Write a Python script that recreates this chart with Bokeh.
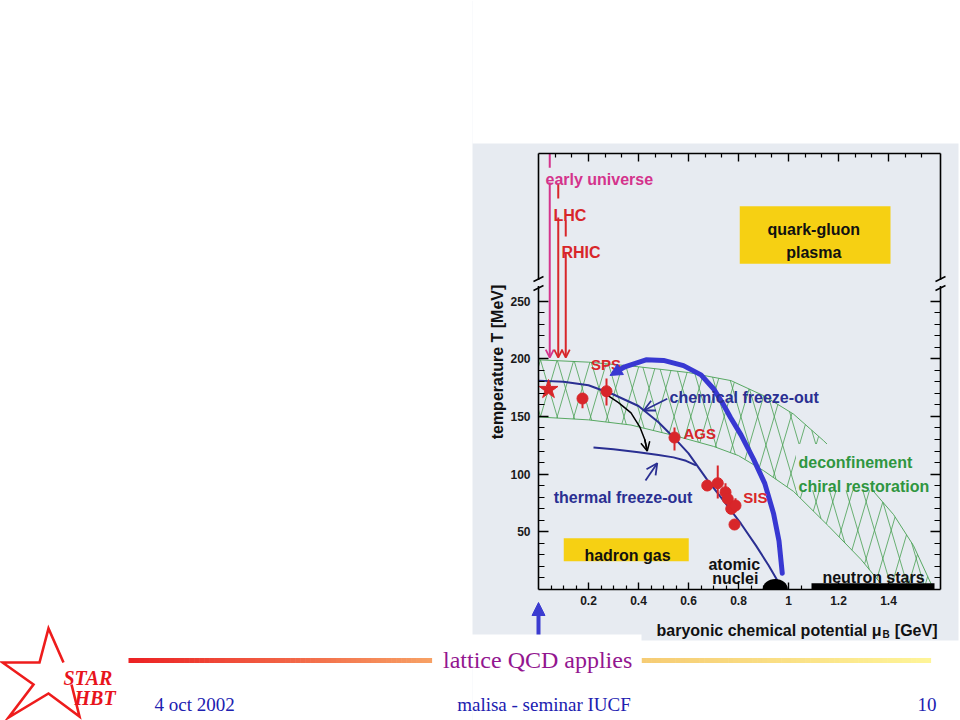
import numpy as np
from bokeh.plotting import figure
from bokeh.models import (Range1d, LinearAxis, FixedTicker, CustomJSTickFormatter,
                          Arrow, OpenHead, NormalHead)
from bokeh.core.properties import value
from bokeh.embed import file_html
from bokeh.resources import INLINE

# ---------------- data ----------------
band_upper_mu = [0.0, 0.2, 0.4, 0.6, 0.77, 0.9, 1.02, 1.14, 1.24, 1.34, 1.42, 1.5, 1.57]
band_upper_T = [199, 197, 193, 188, 181, 168, 152, 129, 108, 85, 65, 38, 5]
band_lower_mu = [0.0, 0.2, 0.37, 0.55, 0.7, 0.8, 0.9, 1.02, 1.16, 1.29, 1.37]
band_lower_T = [149.5, 147, 142.5, 133, 124, 116, 103, 85, 55, 26, 5]

chem_mu = [0.0, 0.1, 0.2, 0.3, 0.4, 0.48, 0.54, 0.6, 0.675, 0.74, 0.81, 0.87, 0.92, 0.955]
chem_T = [181, 180, 177, 169, 159, 145, 132, 118, 95, 77, 57, 38, 21, 8]

therm_mu = [0.22, 0.3, 0.4, 0.48, 0.54, 0.59, 0.63]
therm_T = [123, 121.5, 119, 116.5, 114.5, 111.5, 107.5]

path_mu = [0.975, 0.962, 0.94, 0.905, 0.86, 0.81, 0.768, 0.735, 0.70, 0.65, 0.58, 0.50, 0.43, 0.345]
path_T = [14, 42, 66, 92, 113, 134, 149, 162, 174, 186, 194, 198.5, 199, 193]
path_tip_mu, path_tip_T = 0.286, 185.5

trans_mu = [0.275, 0.32, 0.37, 0.405, 0.425, 0.435]
trans_T = [168.5, 162, 153, 141, 130, 120]

pts_mu = [0.176, 0.272, 0.544, 0.675, 0.717, 0.748, 0.757, 0.771, 0.788, 0.784]
pts_T = [165.5, 171.8, 131.7, 90.1, 92.1, 84.3, 78.6, 69.9, 72.8, 56.3]
pts_lo = [157, 159.4, 120.5, 90.1, 78.9, 77, 78.6, 69.9, 67, 56.3]
pts_hi = [170, 182.8, 140.4, 90.1, 107.5, 92, 78.6, 69.9, 79, 56.3]

lqcd_mu = [0.04]
lqcd_T = [173.3]

beam_mu = [0.045, 0.079, 0.109]
beam_T_end = 201

nuclei_mu = 0.947
nstar_mu = (1.092, 1.584)

x_ticks = [0.2, 0.4, 0.6, 0.8, 1.0, 1.2, 1.4]
x_minor = [round(0.05 * i, 3) for i in range(1, 32) if i % 4]
x_minor_top = [round(i / 15, 4) for i in range(1, 25) if i % 3]
y_ticks = [50, 100, 150, 200, 250]
y_minor = [10 * i for i in range(1, 25) if i % 5]

# ---------------- styling ----------------
BG = "#e7ebf1"
W, H = 960, 720
FL, FR, FT, FB = 538, 940, 153, 589   # frame in page pixels
XS, YS = 250.0, 1.154                 # px per GeV, px per MeV
SANS = "Liberation Sans"
SERIF = "Liberation Serif"
NAVY = "#2a2f92"
THICK = "#3838d2"
RED = "#d8262a"
MAG = "#d4338c"
GREEN = "#2f9640"
HATCH = "#47a052"
YEL = "#f6d013"

p = figure(width=W, height=H, output_backend="svg", toolbar_location=None,
           x_range=Range1d(0, (FR - FL) / XS), y_range=Range1d(0, (FB - FT) / YS),
           min_border_left=FL, min_border_right=W - FR,
           min_border_top=FT, min_border_bottom=H - FB,
           background_fill_color=BG, border_fill_color=BG, outline_line_color=None)
p.xgrid.grid_line_color = None
p.ygrid.grid_line_color = None
p.extra_x_ranges = {"px": Range1d(FL, FR)}
p.extra_y_ranges = {"py": Range1d(FB, FT)}


def style_axis(ax, tin, tmin, standoff):
    ax.axis_line_color = "black"
    ax.axis_line_width = 1.6
    ax.major_tick_line_color = "black"
    ax.major_tick_line_width = 1.4
    ax.minor_tick_line_color = "black"
    ax.minor_tick_line_width = 1.2
    ax.major_tick_out = 0
    ax.minor_tick_out = 0
    ax.major_tick_in = tin
    ax.minor_tick_in = tmin
    ax.major_label_standoff = standoff
    ax.major_label_text_font = SANS
    ax.major_label_text_font_style = "bold"
    ax.major_label_text_font_size = "12px"
    ax.major_label_text_color = "#1a1a1a"


xa = p.below[0]
xa.ticker = FixedTicker(ticks=x_ticks, minor_ticks=x_minor)
xa.formatter = CustomJSTickFormatter(code="return Math.abs(tick-1)<1e-9 ? '1' : tick.toFixed(1);")
style_axis(xa, 7, 4, 6)

ya = p.left[0]
ya.ticker = FixedTicker(ticks=y_ticks, minor_ticks=y_minor)
style_axis(ya, 10, 6, 8)

blank = CustomJSTickFormatter(code="return '';")
top = LinearAxis(ticker=FixedTicker(ticks=x_ticks, minor_ticks=x_minor_top), formatter=blank)
style_axis(top, 8, 4, 0)
top.major_label_text_color = None
p.add_layout(top, "above")

right = LinearAxis(ticker=FixedTicker(ticks=y_ticks, minor_ticks=y_minor), formatter=blank)
style_axis(right, 10, 6, 0)
right.major_label_text_color = None
p.add_layout(right, "right")

# ---------------- hatched band ----------------
band_x = band_upper_mu + band_lower_mu[::-1]
band_y = band_upper_T + band_lower_T[::-1]


def hatch_lines(mx, ty, spacing=16.7, slope=3.4, x_phase=2.0, y_phase=199 * YS):
    """cross-hatch of steep lines, clipped to the polygon (computed in screen pixels)"""
    P = [(a * XS, b * YS) for a, b in zip(mx, ty)]
    n = len(P)
    out = []
    for sign in (1, -1):
        cs = [x - sign * y / slope for x, y in P]
        c0 = x_phase - sign * y_phase / slope
        c = c0 + np.floor((min(cs) - c0) / spacing) * spacing
        while c <= max(cs):
            hits = []
            for i in range(n):
                (x1, y1), (x2, y2) = P[i], P[(i + 1) % n]
                f1 = x1 - sign * y1 / slope - c
                f2 = x2 - sign * y2 / slope - c
                if (f1 > 0) != (f2 > 0):
                    t = f1 / (f1 - f2)
                    hits.append(y1 + t * (y2 - y1))
            hits.sort()
            for a, b in zip(hits[0::2], hits[1::2]):
                out.append(((c + sign * a / slope) / XS, a / YS, (c + sign * b / slope) / XS, b / YS))
            c += spacing
    return out


hl = hatch_lines(band_x, band_y)
p.segment(x0=[s[0] for s in hl], y0=[s[1] for s in hl], x1=[s[2] for s in hl], y1=[s[3] for s in hl],
          line_color=HATCH, line_width=0.8)
p.line(band_upper_mu, band_upper_T, line_color=HATCH, line_width=0.9)
p.line(band_lower_mu, band_lower_T, line_color=HATCH, line_width=0.9)
p.quad(left=[1.03], right=[1.6], bottom=[86], top=[126], fill_color=BG, line_color=None)

p.quad(left=[0.805, 0.101], right=[1.408, 0.601], bottom=[282.2, 24.5], top=[332.2, 44.5],
       fill_color=YEL, line_color=None)

# ---------------- curves ----------------
p.line(chem_mu, chem_T, line_color=NAVY, line_width=2, line_join="round")
p.line(therm_mu, therm_T, line_color=NAVY, line_width=2, line_join="round")
p.line(trans_mu, trans_T, line_color="black", line_width=1.5, line_join="round")
p.line(path_mu, path_T, line_color=THICK, line_width=5, line_join="round", line_cap="round")
p.add_layout(Arrow(end=NormalHead(size=12, fill_color=THICK, line_color=THICK, line_width=1),
                   x_start=path_mu[-1], y_start=path_T[-1], x_end=path_tip_mu, y_end=path_tip_T,
                   line_color=THICK, line_width=5))
p.add_layout(Arrow(end=OpenHead(size=9, line_color="black", line_width=1.5),
                   x_start=trans_mu[-2], y_start=trans_T[-2], x_end=trans_mu[-1], y_end=trans_T[-1],
                   line_color="black", line_width=1.5))

p.add_layout(Arrow(end=OpenHead(size=11, line_color=NAVY, line_width=1.8),
                   x_start=0.515, y_start=165.3, x_end=0.421, y_end=155.1,
                   line_color=NAVY, line_width=1.8))
p.add_layout(Arrow(end=OpenHead(size=11, line_color=NAVY, line_width=1.8),
                   x_start=0.428, y_start=94.5, x_end=0.475, y_end=109.4,
                   line_color=NAVY, line_width=1.8))

beam_colors = [MAG, RED, RED]
seg_top = [377.8, 351.8, 319.8]
seg_bot = [365.5, 338.8, 305.9]
arr_start = [352.7, 322.3, 292.0]
p.segment(x0=beam_mu, y0=seg_top, x1=beam_mu, y1=seg_bot, line_color=beam_colors, line_width=2)
for m, c, s in zip(beam_mu, beam_colors, arr_start):
    p.add_layout(Arrow(end=OpenHead(size=8, line_color=c, line_width=1.8),
                       x_start=m, y_start=s, x_end=m, y_end=beam_T_end,
                       line_color=c, line_width=2))

p.ellipse(x=[nuclei_mu], y=[0], width=0.101, height=18.2, fill_color="black", line_color=None)
p.quad(left=[nstar_mu[0]], right=[nstar_mu[1]], bottom=[0], top=[5.5],
       fill_color="black", line_color=None)

p.segment(x0=pts_mu, y0=pts_lo, x1=pts_mu, y1=pts_hi, line_color=RED, line_width=2)
p.scatter(pts_mu, pts_T, marker="circle", size=11, fill_color=RED, line_color=RED)
p.scatter(lqcd_mu, lqcd_T, marker="star", size=20, fill_color=RED, line_color=RED)


def dtext(xs, ys, texts, color, size="16px", align="left"):
    p.text(x=xs, y=ys, text=texts, text_color=color, text_font=value(SANS),
           text_font_style="bold", text_font_size=size, text_align=align,
           text_baseline="alphabetic")


dtext([0.028], [355.3], ["early universe"], MAG)
dtext([0.06, 0.092], [324.1, 292.3], ["LHC", "RHIC"], RED)
dtext([1.101, 1.101], [311.7, 292.3], ["quark-gluon", "plasma"], "#111111", align="center")
dtext([0.27], [194.6], ["SPS"], RED, size="15px", align="center")
dtext([0.58], [135.2], ["AGS"], RED, size="15px")
dtext([0.819], [80.0], ["SIS"], RED, size="15px")
dtext([0.524], [166.1], ["chemical freeze-out"], NAVY)
dtext([0.061], [80.0], ["thermal freeze-out"], NAVY)
dtext([1.04, 1.04], [110.3, 89.3], ["deconfinement", "chiral restoration"], GREEN)
dtext([0.356], [29.5], ["hadron gas"], "#111111", align="center")
dtext([0.783, 0.787], [21.4, 9.3], ["atomic", "nuclei"], "#111111", align="center")
dtext([1.34], [10.1], ["neutron stars"], "#111111", align="center")

# ---------------- page-level decorations (page pixel coordinates) ----------------
PX = dict(x_range_name="px", y_range_name="py", level="overlay")

p.quad(left=[-20, 472, 472, 958], right=[472, 980, 980, 980], top=[-20, -20, 640, -20],
       bottom=[740, 143, 740, 740], fill_color="white", line_color=None, **PX)

p.quad(left=[534, 936], right=[542, 944], top=[279.5, 279.5], bottom=[285.5, 285.5],
       fill_color=BG, line_color=None, **PX)
p.segment(x0=[533, 533, 935, 935], y0=[281, 290, 281, 290], x1=[543, 543, 945, 945],
          y1=[276, 285, 276, 285], line_color="black", line_width=1.5, **PX)


def ptext(x, y, s, color, font, size, style="normal", align="left", angle=0.0):
    p.text(x=[x], y=[y], text=[s], text_color=color, text_font=value(font),
           text_font_style=style, text_font_size=size, text_align=align,
           text_baseline="alphabetic", angle=angle, **PX)


ptext(497, 361.5, "temperature T [MeV]", "#111111", SANS, "16px", "bold", "center", np.pi / 2)
ptext(881, 630, "baryonic chemical potential \u03bc", "#111111", SANS, "16px", "bold", "right")
ptext(882, 634, "B", "#111111", SANS, "10px", "bold", "left")
ptext(937, 630, "[GeV]", "#111111", SANS, "16px", "bold", "right")


def grad(x0, x1, c0, c1, n=60):
    xs = np.linspace(x0, x1, n + 1)
    t = np.linspace(0, 1, n)
    cols = ["#%02x%02x%02x" % tuple(int(round(a + (b - a) * tt)) for a, b in zip(c0, c1)) for tt in t]
    p.segment(x0=xs[:-1], x1=xs[1:] + 0.6, y0=[660] * n, y1=[660] * n, line_color=cols,
              line_width=5, **PX)


grad(128, 431, (236, 34, 36), (247, 160, 100))
grad(641, 930, (246, 204, 116), (254, 244, 152))

p.quad(left=[434], right=[641], top=[634], bottom=[668], fill_color="white", line_color=None, **PX)
p.segment(x0=[538], y0=[634], x1=[538], y1=[613], line_color="#3b3bd0", line_width=4, **PX)
p.patch([531.5, 544.5, 538], [615, 615, 602], fill_color="#3b3bd0", line_color="#3b3bd0", **PX)
ptext(442.5, 659, "lattice QCD applies", "#931690", SERIF, "24px")

# STAR HBT logo: star outline whose right arm is replaced by the text
star_x = [63, 48, 39, 2, 33, 8, 48, 79, 71]
star_y = [662, 628, 662, 662, 684, 717, 693, 716, 684]
p.line(star_x, star_y, line_color="#ee1c1c", line_width=2.6, line_join="miter", **PX)
ptext(63, 677, "STAR", "#e8141c", SERIF, "20px", "bold italic")
ptext(74, 697, "HBT", "#e8141c", SERIF, "20px", "bold italic")

ptext(154, 704, "4 oct 2002", "#2020b0", SERIF, "19px")
ptext(543.5, 704, "malisa - seminar IUCF", "#2020b0", SERIF, "19px", align="center")
ptext(936, 704, "10", "#2020b0", SERIF, "19px", align="right")

open("out.html", "w").write(file_html(p, INLINE))
